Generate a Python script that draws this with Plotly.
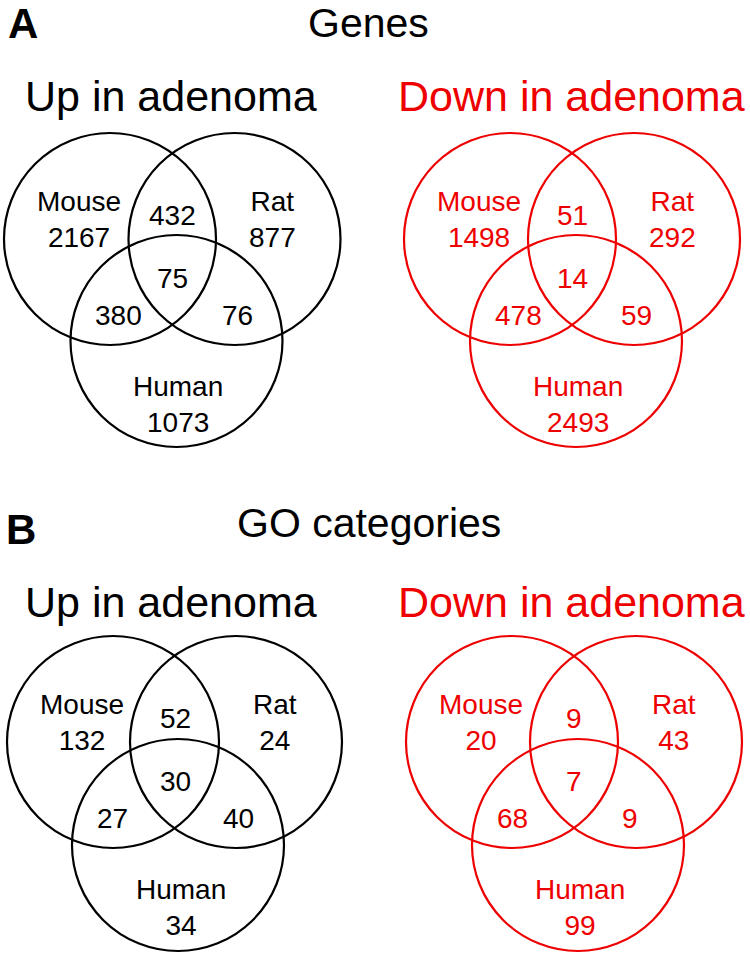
import plotly.graph_objects as go

# ---------------- data ----------------
species = ["Mouse", "Rat", "Human"]
# region order: Mouse only, Rat only, Human only, Mouse&Rat, Mouse&Human, Rat&Human, all three
genes_up = [2167, 877, 1073, 432, 380, 76, 75]
genes_down = [1498, 292, 2493, 51, 478, 59, 14]
go_up = [132, 24, 34, 52, 27, 40, 30]
go_down = [20, 43, 99, 9, 68, 9, 7]
section_titles = ["Genes", "GO categories"]
section_letters = ["A", "B"]
panel_titles = ["Up in adenoma", "Down in adenoma"]

# ---------------- layout / style ----------------
BLACK = "#000000"
RED = "#EE0000"
FONT = "Liberation Sans, Arial, sans-serif"
R = 106

panels = [
    dict(vals=genes_up, color=BLACK, title=panel_titles[0], title_xy=(171, 96),
         centers=[(110, 239), (234.5, 239), (176.5, 341)], mh=8, rh=127),
    dict(vals=genes_down, color=RED, title=panel_titles[1], title_xy=(571.5, 96),
         centers=[(510, 239), (634, 239), (576, 341)], mh=8, rh=126),
    dict(vals=go_up, color=BLACK, title=panel_titles[0], title_xy=(171, 602),
         centers=[(113, 742), (236, 742), (178, 845)], mh=-1, rh=125),
    dict(vals=go_down, color=RED, title=panel_titles[1], title_xy=(571.5, 602),
         centers=[(512, 742), (636, 742), (578, 845)], mh=0, rh=118),
]

fig = go.Figure()
shapes = []
annotations = []

def add_text(x, y, text, size, color, bold=False):
    annotations.append(dict(
        x=x, y=y, xref="x", yref="y", text=f"<b>{text}</b>" if bold else text,
        showarrow=False, xanchor="center", yanchor="middle",
        font=dict(family=FONT, size=size, color=color)))

for p in panels:
    vals = p["vals"]
    col = p["color"]
    for (cx, cy) in p["centers"]:
        shapes.append(dict(type="circle", xref="x", yref="y",
                           x0=cx - R, x1=cx + R, y0=cy - R, y1=cy + R,
                           line=dict(color=col, width=2.2), fillcolor="rgba(0,0,0,0)"))
    mx, my = p["centers"][0]
    add_text(*p["title_xy"], p["title"], 43, col)
    # single-species regions (name + count)
    add_text(mx - 31, my - 19.5, f"{species[0]}<br>{vals[0]}", 28, col)
    add_text(mx + 162, my - 19.5, f"{species[1]}<br>{vals[1]}", 28, col)
    add_text(mx + 68, my + 165.5, f"{species[2]}<br>{vals[2]}", 28, col)
    # overlaps
    add_text(mx + 62, my - 24, str(vals[3]), 28, col)
    add_text(mx + p["mh"], my + 76, str(vals[4]), 28, col)
    add_text(mx + p["rh"], my + 76, str(vals[5]), 28, col)
    add_text(mx + 62, my + 39, str(vals[6]), 28, col)

add_text(368, 23, section_titles[0], 41, BLACK)
add_text(368.5, 523, section_titles[1], 41, BLACK)
add_text(23, 23, section_letters[0], 42, BLACK, bold=True)
add_text(21, 529, section_letters[1], 42, BLACK, bold=True)

fig.update_layout(
    width=750, height=956,
    margin=dict(l=0, r=0, t=0, b=0),
    paper_bgcolor="white", plot_bgcolor="white",
    shapes=shapes, annotations=annotations,
    xaxis=dict(range=[0, 750], visible=False, fixedrange=True),
    yaxis=dict(range=[956, 0], visible=False, fixedrange=True),
    showlegend=False,
)
fig.write_html("out.html",
               config={"displayModeBar": False},
               post_script="document.body.style.margin='0';document.body.style.overflow='hidden';")
